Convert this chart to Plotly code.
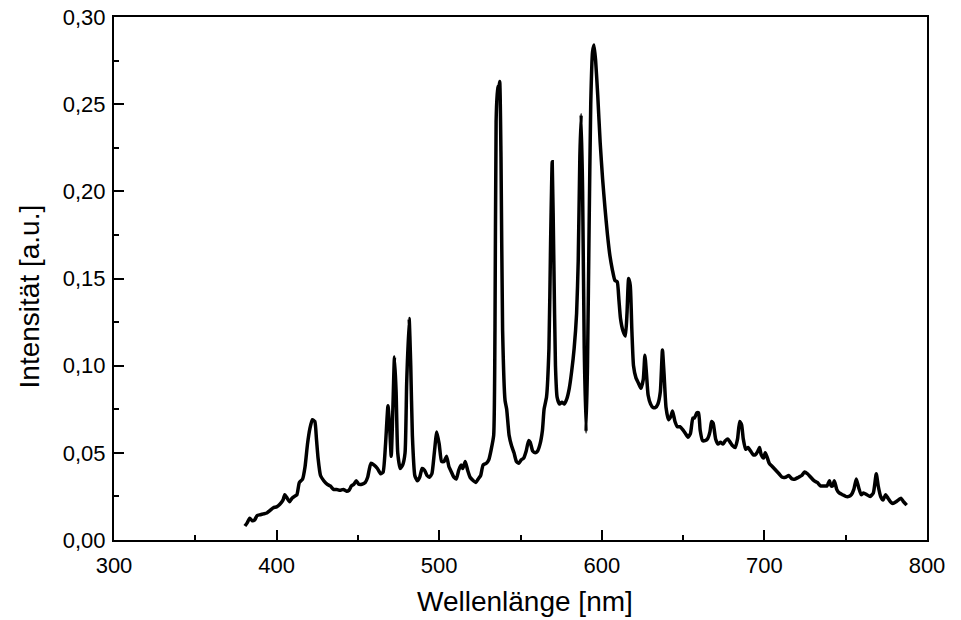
import plotly.graph_objects as go

# Emission spectrum: wavelength (nm) and relative intensity (a.u.)
wavelength = [
    380.5, 382, 383.5, 385, 386.5, 388, 390, 392, 394, 396, 398, 400, 402, 404, 405,
    406.5, 408, 409.5, 411, 412.5, 414, 416, 417.5, 419, 420.5, 422, 423.5, 424.5, 425.5,
    427, 429, 431, 433, 435, 437, 439, 441, 443, 444.5, 446, 447.5, 449, 450.5, 452.5,
    454.5, 456, 458, 460, 462, 464, 465.5, 467, 468.5, 469.5, 470.5, 471.5, 472.5, 473.5,
    474.5, 476, 477.5, 479, 480, 481.5, 482.5, 483.5, 485, 486.5, 488, 489.5, 491, 492.5,
    494, 495.5, 497, 498.5, 500, 501.5, 503, 504.5, 506, 507.5, 509, 510.5, 512, 513.5,
    514.5, 516, 517.5, 519, 521, 522.5, 524, 525.5, 527, 529, 530.5, 532, 533.5, 534.3,
    535, 535.8, 536.5, 537.2, 538, 539, 540.5, 541.5, 543, 544.5, 546, 547.5, 549, 550.5,
    552, 553.5, 555, 556, 557.5, 559, 560.5, 562, 563.5, 564.5, 566, 567.5, 568.5, 569.5,
    570.5, 571.5, 572.5, 574, 575.5, 577, 578.5, 580, 581.5, 583, 584.5, 585.5, 586.5,
    587.3, 588.2, 589.2, 590.3, 591.2, 592.2, 593.2, 594.3, 595.2, 596.2, 597.5, 599,
    600.5, 602, 603.5, 605, 606.5, 608, 609.5, 610.5, 611.5, 613, 614.5, 615.5, 616.5,
    617.5, 618.5, 619.5, 621, 622.5, 624, 625.5, 626.5, 627.5, 628.5, 630, 631.5, 633,
    634.5, 636, 637.3, 638.3, 639.5, 641, 642.5, 643.5, 645, 646.5, 648, 650, 651.5, 653,
    654.5, 656, 657, 658.5, 659.5, 660.5, 662, 663.5, 665, 666.5, 667.5, 668.5, 670,
    671.5, 673, 674.5, 676, 677.5, 679, 680.5, 682, 683.5, 684.8, 686, 687, 688.5, 690,
    691.5, 693, 694.5, 696, 697, 698, 699.5, 700.5, 701.5, 703, 705, 707, 709, 711, 713,
    715, 717, 719, 721, 723, 724.7, 726.5, 728.5, 730.5, 732.5, 734.5, 736.5, 738.5, 740,
    741, 742, 743, 744.5, 746, 748, 750, 752, 753.5, 755, 756.5, 758, 759.5, 761, 763,
    765, 767, 768.8, 770, 771.5, 773, 774.5, 776, 777.5, 779, 781, 782.5, 784, 785.5, 787.5,
]
intensity = [
    0.008, 0.010, 0.0125, 0.011, 0.0115, 0.014, 0.0145, 0.015, 0.0155, 0.017, 0.0185, 0.019, 0.0205, 0.023, 0.026,
    0.024, 0.022, 0.024, 0.025, 0.026, 0.033, 0.035, 0.042, 0.055, 0.064, 0.069, 0.068, 0.058, 0.047,
    0.037, 0.034, 0.032, 0.031, 0.029, 0.029, 0.0285, 0.029, 0.028, 0.0285, 0.031, 0.032, 0.034, 0.032, 0.032,
    0.033, 0.036, 0.044, 0.043, 0.041, 0.038, 0.039, 0.055, 0.077, 0.065, 0.048, 0.075, 0.105, 0.085,
    0.050, 0.041, 0.043, 0.050, 0.090, 0.127, 0.100, 0.060, 0.037, 0.034, 0.036, 0.041, 0.040, 0.037,
    0.036, 0.038, 0.050, 0.062, 0.055, 0.045, 0.045, 0.048, 0.042, 0.039, 0.036, 0.035, 0.040, 0.043,
    0.041, 0.045, 0.040, 0.036, 0.034, 0.033, 0.035, 0.037, 0.043, 0.044, 0.046, 0.052, 0.060, 0.120,
    0.240, 0.260, 0.258, 0.263, 0.220, 0.120, 0.080, 0.075, 0.060, 0.054, 0.050, 0.045, 0.044, 0.046,
    0.047, 0.051, 0.057, 0.056, 0.051, 0.050, 0.051, 0.055, 0.063, 0.075, 0.082, 0.110, 0.170, 0.217,
    0.160, 0.100, 0.082, 0.078, 0.079, 0.078, 0.081, 0.087, 0.097, 0.110, 0.130, 0.160, 0.220,
    0.244, 0.200, 0.110, 0.062, 0.100, 0.180, 0.250, 0.280, 0.284, 0.275, 0.255, 0.228,
    0.207, 0.190, 0.175, 0.163, 0.155, 0.149, 0.148, 0.138, 0.127, 0.120, 0.117, 0.130, 0.150,
    0.146, 0.120, 0.100, 0.093, 0.090, 0.087, 0.092, 0.106, 0.095, 0.083, 0.078, 0.076, 0.076,
    0.078, 0.085, 0.109, 0.095, 0.076, 0.069, 0.071, 0.074, 0.068, 0.065, 0.065, 0.063, 0.061, 0.059,
    0.061, 0.070, 0.070, 0.073, 0.073, 0.063, 0.057, 0.057, 0.058, 0.062, 0.068, 0.067, 0.058,
    0.055, 0.056, 0.055, 0.057, 0.058, 0.056, 0.054, 0.053, 0.058, 0.068, 0.066, 0.058, 0.052, 0.053,
    0.051, 0.049, 0.049, 0.051, 0.053, 0.049, 0.047, 0.050, 0.048, 0.044, 0.042, 0.040, 0.038, 0.036, 0.036,
    0.037, 0.035, 0.035, 0.036, 0.037, 0.039, 0.038, 0.036, 0.034, 0.033, 0.031, 0.031, 0.031, 0.034,
    0.031, 0.031, 0.034, 0.029, 0.027, 0.026, 0.025, 0.025, 0.026, 0.029, 0.035, 0.030, 0.026, 0.027, 0.026,
    0.025, 0.027, 0.038, 0.031, 0.025, 0.023, 0.026, 0.024, 0.022, 0.021, 0.022, 0.023, 0.024, 0.022, 0.020,
]

x_ticks = [300, 400, 500, 600, 700, 800]
y_ticks = [0.00, 0.05, 0.10, 0.15, 0.20, 0.25, 0.30]
x_title = "Wellenlänge [nm]"
y_title = "Intensität [a.u.]"

FONT = "Liberation Sans, Arial, sans-serif"
TITLE_FONT = dict(family=FONT, size=28, color="black")

fig = go.Figure(
    go.Scatter(
        x=wavelength,
        y=intensity,
        mode="lines",
        line=dict(color="black", width=3.5, shape="spline", smoothing=0.5),
        showlegend=False,
    )
)

axis_common = dict(
    automargin=False,
    showline=True,
    linecolor="black",
    linewidth=2,
    mirror=True,
    showgrid=False,
    zeroline=False,
    ticks="inside",
    ticklen=10,
    tickwidth=1.5,
    tickcolor="black",
    tickfont=dict(family=FONT, size=22, color="black"),
)

fig.update_xaxes(
    **axis_common,
    range=[300, 800],
    tickvals=x_ticks,
    minor=dict(dtick=50, ticks="inside", ticklen=5, tickwidth=1.5, tickcolor="black"),
    ticklabelstandoff=5,
)
fig.update_yaxes(
    **axis_common,
    range=[0, 0.30],
    tickvals=y_ticks,
    tickformat=".2f",
    minor=dict(dtick=0.025, ticks="inside", ticklen=5, tickwidth=1.5, tickcolor="black"),
    ticklabelstandoff=2,
)

# Axis titles placed as annotations so they can sit slightly off-centre
fig.add_annotation(
    text=x_title, xref="paper", yref="paper", x=0.5055, y=-0.1185,
    xanchor="center", yanchor="middle", showarrow=False, font=TITLE_FONT,
)
fig.add_annotation(
    text=y_title, xref="paper", yref="paper", x=-0.104, y=0.4665,
    xanchor="center", yanchor="middle", textangle=-90, showarrow=False, font=TITLE_FONT,
)

fig.update_layout(
    width=961,
    height=620,
    separators=",.",
    plot_bgcolor="white",
    paper_bgcolor="white",
    margin=dict(l=114, r=34, t=17, b=80),
)

fig.write_html("out.html")
